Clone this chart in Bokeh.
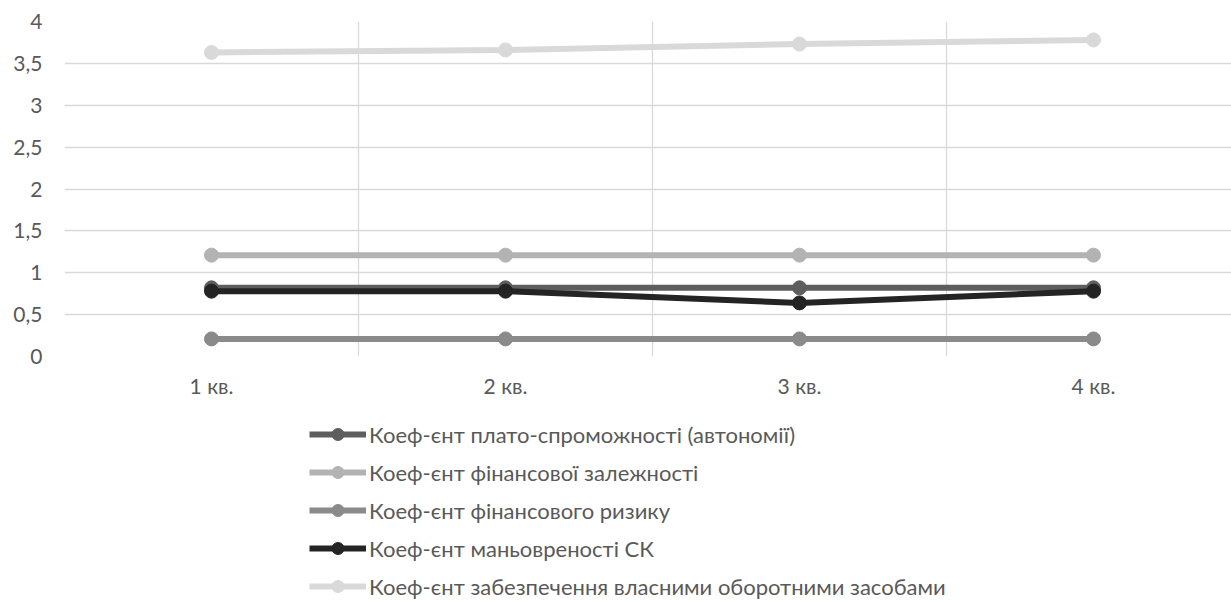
from bokeh.plotting import figure
from bokeh.layouts import column
from bokeh.models import Range1d, FixedTicker, Legend, LegendItem
from bokeh.embed import file_html
from bokeh.resources import INLINE

# ---- data ----
quarters = ["1 кв.", "2 кв.", "3 кв.", "4 кв."]
x_pos = [1, 2, 3, 4]
autonomy = [0.82, 0.82, 0.82, 0.82]
dependence = [1.21, 1.21, 1.21, 1.21]
risk = [0.21, 0.21, 0.21, 0.21]
maneuver = [0.78, 0.78, 0.64, 0.78]
own_funds = [3.63, 3.66, 3.73, 3.78]
series_names = [
    "Коеф-єнт плато-спроможності (автономії)",
    "Коеф-єнт фінансової залежності",
    "Коеф-єнт фінансового ризику",
    "Коеф-єнт маньовреності СК",
    "Коеф-єнт забезпечення власними оборотними засобами",
]
series_values = [autonomy, dependence, risk, maneuver, own_funds]
series_colors = ["#5e5e5e", "#b3b3b3", "#8a8a8a", "#242424", "#d9d9d9"]
y_ticks = [0, 0.5, 1, 1.5, 2, 2.5, 3, 3.5, 4]
y_tick_labels = ["0", "0,5", "1", "1,5", "2", "2,5", "3", "3,5", "4"]

FONT = "Lato"
TXT = "#595959"
GRID = "#d9d9d9"
FS = "21px"
W = 1231
H_MAIN = 415
H_LEG = 601 - H_MAIN
FRAME_LEFT = 64

p = figure(width=W, height=H_MAIN, output_backend="svg", toolbar_location=None,
           x_range=Range1d(0.5, 0.5 + (W - FRAME_LEFT) / 294.0), y_range=Range1d(0, 4),
           min_border_left=FRAME_LEFT, min_border_right=0, min_border_top=21,
           min_border_bottom=H_MAIN - 356)
p.outline_line_color = None
p.background_fill_color = "white"
p.border_fill_color = "white"

# axes
p.xaxis.ticker = FixedTicker(ticks=x_pos)
p.xaxis.major_label_overrides = {x: q for x, q in zip(x_pos, quarters)}
p.xaxis.axis_line_color = None
p.xaxis.major_tick_line_color = None
p.xaxis.minor_tick_line_color = None
p.xaxis.major_tick_out = 0
p.xaxis.major_tick_in = 0
p.xaxis.major_label_text_font = FONT
p.xaxis.major_label_text_font_size = FS
p.xaxis.major_label_text_color = TXT
p.xaxis.major_label_standoff = 16

p.yaxis.ticker = FixedTicker(ticks=y_ticks)
p.yaxis.major_label_overrides = {t: l for t, l in zip(y_ticks, y_tick_labels)}
p.yaxis.axis_line_color = None
p.yaxis.major_tick_line_color = None
p.yaxis.minor_tick_line_color = None
p.yaxis.major_tick_out = 0
p.yaxis.major_tick_in = 0
p.yaxis.major_label_text_font = FONT
p.yaxis.major_label_text_font_size = FS
p.yaxis.major_label_text_color = TXT
p.yaxis.major_label_standoff = 22

p.xgrid.ticker = FixedTicker(ticks=[0.5, 1.5, 2.5, 3.5, 4.5])
p.xgrid.grid_line_color = GRID
p.xgrid.grid_line_width = 1.3
p.ygrid.grid_line_color = GRID
p.ygrid.grid_line_width = 1.3

for vals, col in zip(series_values, series_colors):
    p.line(x_pos, vals, line_color=col, line_width=6)
    p.scatter(x_pos, vals, marker="circle", size=14, fill_color=col, line_color=col)

# ---- legend panel (separate figure below the chart) ----
lf = figure(width=W, height=H_LEG, output_backend="svg", toolbar_location=None,
            x_range=Range1d(0, 1), y_range=Range1d(0, 1),
            min_border_left=FRAME_LEFT, min_border_right=0, min_border_top=0, min_border_bottom=0)
lf.axis.visible = False
lf.grid.visible = False
lf.outline_line_color = None
lf.background_fill_color = "white"
lf.border_fill_color = "white"

items = []
for name, col in zip(series_names, series_colors):
    # off-range proxies carrying the same styles as the chart's lines
    l = lf.line([-5, -4], [-5, -4], line_color=col, line_width=6)
    s = lf.scatter([-5], [-5], marker="circle", size=14, fill_color=col, line_color=col)
    items.append(LegendItem(label=name, renderers=[l, s]))

ROW = 30
SP = 8
leg_h = 5 * ROW + 4 * SP
first_center = 434 - H_MAIN
top = first_center - ROW // 2
legend = Legend(items=items, location=(309 - FRAME_LEFT, H_LEG - (top + leg_h)),
                orientation="vertical",
                padding=0, margin=0, spacing=SP, glyph_width=57, glyph_height=ROW,
                label_height=ROW, label_standoff=3, border_line_color=None,
                background_fill_alpha=0, label_text_font=FONT,
                label_text_font_size="22px", label_text_color=TXT)
lf.add_layout(legend, "center")

layout = column(p, lf, spacing=0)
open("out.html", "w").write(file_html(layout, INLINE))
